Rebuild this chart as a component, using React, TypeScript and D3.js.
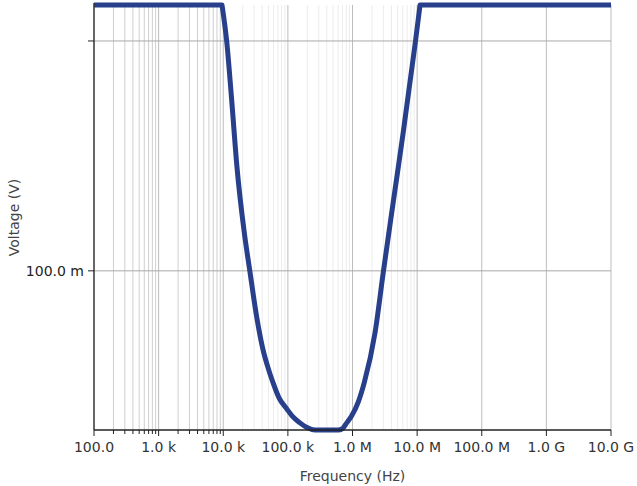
import React from "react";
import * as d3 from "d3";

// Frequency (Hz) and voltage (V)
const freqs = [100, 1000, 5000, 9570, 11300, 13500, 16300, 21200, 25900, 32900, 41200, 48700, 58900, 72900, 95900, 116000, 154000, 198000, 263000, 400000, 597000, 700000, 813000, 972000, 1230000, 1520000, 2230000, 3000000, 4280000, 6110000, 9440000, 11100000, 100000000, 1e9, 1e10];
const volts = [1.434, 1.434, 1.434, 1.434, 1.0, 0.554, 0.283, 0.146, 0.099, 0.063, 0.0454, 0.0383, 0.0326, 0.028, 0.0251, 0.0234, 0.0218, 0.0208, 0.0203, 0.0203, 0.0203, 0.0206, 0.0218, 0.0234, 0.0269, 0.0326, 0.0537, 0.099, 0.2, 0.402, 1.0, 1.434, 1.434, 1.434, 1.434];

const xMajorTicks = [1e2, 1e3, 1e4, 1e5, 1e6, 1e7, 1e8, 1e9, 1e10];
const xTickLabels = ["100.0", "1.0 k", "10.0 k", "100.0 k", "1.0 M", "10.0 M", "100.0 M", "1.0 G", "10.0 G"];
const yTicks = [1.0, 0.1];
const yTickLabels = ["", "100.0 m"];
const yDomain = [0.0203, 1.434];

const W = 637, H = 486;
const M = { left: 94, right: 26, top: 5, bottom: 56 };

type P = { f: number; v: number };

export default function App() {
  const x = d3.scaleLog().domain([1e2, 1e10]).range([M.left, W - M.right]);
  const y = d3.scaleLog().domain(yDomain).range([H - M.bottom, M.top]).clamp(true);
  const data: P[] = freqs.map((f, i) => ({ f, v: volts[i] }));
  const top = yDomain[1];
  // split where the response leaves / re-enters the clamped top
  const firstDrop = data.findIndex((d) => d.v < top) - 1;
  let lastRise = data.length - 1;
  while (lastRise > 0 && data[lastRise - 1].v >= top) lastRise--;
  const lin = d3.line<P>().x((d) => x(d.f)).y((d) => y(d.v)).curve(d3.curveLinear);
  const smooth = d3.line<P>().x((d) => x(d.f)).y((d) => y(d.v)).curve(d3.curveMonotoneX);
  const dLeft = lin(data.slice(0, firstDrop + 1)) || "";
  const dMid = (smooth(data.slice(firstDrop, lastRise + 1)) || "").replace(/^M/, "L");
  const dRight = (lin(data.slice(lastRise)) || "").replace(/^M/, "L");
  const pathD = dLeft + dMid + dRight;

  const minorDark: number[] = [];
  const minorLight: number[] = [];
  for (let e = 2; e < 7; e++) {
    for (let k = 2; k <= 9; k++) {
      const f = k * Math.pow(10, e);
      if (e < 4) minorDark.push(f);
      else minorLight.push(f);
    }
  }
  const y0 = H - M.bottom;
  const font = "'DejaVu Sans', sans-serif";

  return (
    <svg width={W} height={H} style={{ position: "absolute", left: 0, top: 0, background: "#fff" }}>
      {minorLight.map((f, i) => (
        <line key={"ml" + i} x1={x(f)} x2={x(f)} y1={M.top} y2={y0} stroke="#ececec" strokeWidth={1} />
      ))}
      {minorDark.map((f, i) => (
        <line key={"md" + i} x1={x(f)} x2={x(f)} y1={M.top} y2={y0} stroke="#cfcfcf" strokeWidth={1} />
      ))}
      {xMajorTicks.slice(1).map((f, i) => (
        <line key={"xg" + i} x1={x(f)} x2={x(f)} y1={M.top} y2={y0} stroke="#bdbdbd" strokeWidth={1} />
      ))}
      {yTicks.map((v, i) => (
        <line key={"yg" + i} x1={M.left} x2={W - M.right} y1={y(v)} y2={y(v)} stroke="#a8a8a8" strokeWidth={1} />
      ))}
      <path d={pathD} fill="none" stroke="#283f8b" strokeWidth={5} strokeLinejoin="round" />
      <line x1={M.left} x2={M.left} y1={M.top - 2} y2={y0} stroke="#333" strokeWidth={1.5} />
      <line x1={M.left} x2={W - M.right} y1={y0} y2={y0} stroke="#222" strokeWidth={1.5} />
      {xMajorTicks.map((f, i) => (
        <g key={"xt" + i}>
          <line x1={x(f)} x2={x(f)} y1={y0} y2={y0 + 6} stroke="#222" strokeWidth={1} />
          <text x={x(f)} y={y0 + 22} textAnchor="middle" fontFamily={font} fontSize={14} fill="#333">
            {xTickLabels[i]}
          </text>
        </g>
      ))}
      {minorDark.map((f, i) => (
        <line key={"mt" + i} x1={x(f)} x2={x(f)} y1={y0} y2={y0 + 4} stroke="#222" strokeWidth={1} />
      ))}
      {yTicks.map((v, i) => (
        <g key={"yt" + i}>
          <line x1={M.left - 6} x2={M.left} y1={y(v)} y2={y(v)} stroke="#222" strokeWidth={1} />
          <text x={M.left - 10} y={y(v)} dy="0.35em" textAnchor="end" fontFamily={font} fontSize={14} fill="#222">
            {yTickLabels[i]}
          </text>
        </g>
      ))}
      <text x={(M.left + W - M.right) / 2} y={H - 5} textAnchor="middle" fontFamily={font} fontSize={14} fill="#444">
        Frequency (Hz)
      </text>
      <text
        transform={`translate(19,${(M.top + y0) / 2}) rotate(-90)`}
        textAnchor="middle"
        fontFamily={font}
        fontSize={14}
        fill="#444"
      >
        Voltage (V)
      </text>
    </svg>
  );
}
